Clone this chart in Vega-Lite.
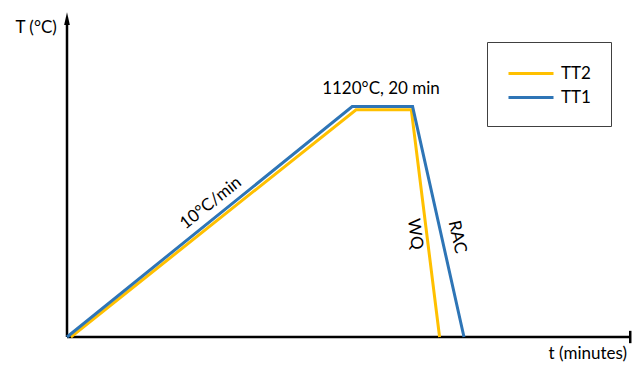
{
  "$schema": "https://vega.github.io/schema/vega-lite/v6.json",
  "width": 564,
  "height": 325,
  "autosize": {"type": "none"},
  "padding": {"left": 67, "top": 12, "right": 2, "bottom": 28},
  "background": "white",
  "config": {"view": {"stroke": null}, "font": "Lato"},
  "layer": [
    {
      "data": {"values": [
        {"x1": 0, "y1": 0, "x2": 0, "y2": 1517},
        {"x1": 0, "y1": 0, "x2": 219.5, "y2": 0},
        {"x1": 219.2, "y1": -30, "x2": 219.2, "y2": 30}
      ]},
      "mark": {"type": "rule", "color": "black", "strokeWidth": 2.5, "clip": false},
      "encoding": {
        "x": {"field": "x1", "type": "quantitative", "scale": {"domain": [0, 219.5], "nice": false, "zero": false}, "axis": null},
        "y": {"field": "y1", "type": "quantitative", "scale": {"domain": [0, 1580], "nice": false, "zero": false}, "axis": null},
        "x2": {"field": "x2"},
        "y2": {"field": "y2"}
      }
    },
    {
      "data": {"values": [{"x": 0, "y": 1548}]},
      "mark": {"type": "point", "shape": "M0,-1L-0.45,1L0.45,1Z", "size": 160, "filled": true, "color": "black", "opacity": 1, "clip": false},
      "encoding": {
        "x": {"field": "x", "type": "quantitative"},
        "y": {"field": "y", "type": "quantitative"}
      }
    },
    {
      "data": {"values": [
        {"series": "TT2", "ord": 1, "t": 1.5, "T": 0},
        {"series": "TT2", "ord": 2, "t": 112.5, "T": 1105},
        {"series": "TT2", "ord": 3, "t": 134, "T": 1105},
        {"series": "TT2", "ord": 4, "t": 145, "T": 0},
        {"series": "TT1", "ord": 1, "t": 0, "T": 0},
        {"series": "TT1", "ord": 2, "t": 111, "T": 1120},
        {"series": "TT1", "ord": 3, "t": 134.5, "T": 1120},
        {"series": "TT1", "ord": 4, "t": 154.5, "T": 0}
      ]},
      "mark": {"type": "line", "strokeWidth": 3, "strokeJoin": "miter"},
      "encoding": {
        "x": {"field": "t", "type": "quantitative"},
        "y": {"field": "T", "type": "quantitative"},
        "order": {"field": "ord"},
        "color": {
          "field": "series",
          "type": "nominal",
          "scale": {"domain": ["TT2", "TT1"], "range": ["#FFC000", "#2E75B6"]},
          "legend": {
            "title": null,
            "orient": "none",
            "legendX": 420,
            "legendY": 30,
            "strokeColor": "#404040",
            "padding": 20,
            "symbolType": "M-1,0H3.5",
            "symbolSize": 400,
            "symbolStrokeWidth": 3,
            "labelFontSize": 17,
            "labelFont": "Lato",
            "labelColor": "black",
            "rowPadding": 4,
            "labelOffset": 31
          }
        }
      }
    },
    {
      "data": {"values": [{"label": "1120°C, 20 min", "t": 122.2, "T": 1206}]},
      "mark": {"type": "text", "fontSize": 17, "color": "black", "clip": false},
      "encoding": {"x": {"field": "t", "type": "quantitative"}, "y": {"field": "T", "type": "quantitative"}, "text": {"field": "label"}}
    },
    {
      "data": {"values": [{"label": "10°C/min", "t": 56, "T": 651}]},
      "mark": {"type": "text", "fontSize": 17, "color": "black", "angle": 321.5},
      "encoding": {"x": {"field": "t", "type": "quantitative"}, "y": {"field": "T", "type": "quantitative"}, "text": {"field": "label"}}
    },
    {
      "data": {"values": [{"label": "WQ", "t": 135.4, "T": 500}]},
      "mark": {"type": "text", "fontSize": 17, "color": "black", "angle": 83},
      "encoding": {"x": {"field": "t", "type": "quantitative"}, "y": {"field": "T", "type": "quantitative"}, "text": {"field": "label"}}
    },
    {
      "data": {"values": [{"label": "RAC", "t": 151.8, "T": 486}]},
      "mark": {"type": "text", "fontSize": 17, "color": "black", "angle": 77},
      "encoding": {"x": {"field": "t", "type": "quantitative"}, "y": {"field": "T", "type": "quantitative"}, "text": {"field": "label"}}
    },
    {
      "data": {"values": [{"label": "T (°C)", "t": -12, "T": 1502}]},
      "mark": {"type": "text", "fontSize": 17, "color": "black", "clip": false},
      "encoding": {"x": {"field": "t", "type": "quantitative"}, "y": {"field": "T", "type": "quantitative"}, "text": {"field": "label"}}
    },
    {
      "data": {"values": [{"label": "t (minutes)", "t": 202.7, "T": -83}]},
      "mark": {"type": "text", "fontSize": 17, "color": "black", "clip": false},
      "encoding": {"x": {"field": "t", "type": "quantitative"}, "y": {"field": "T", "type": "quantitative"}, "text": {"field": "label"}}
    }
  ]
}
